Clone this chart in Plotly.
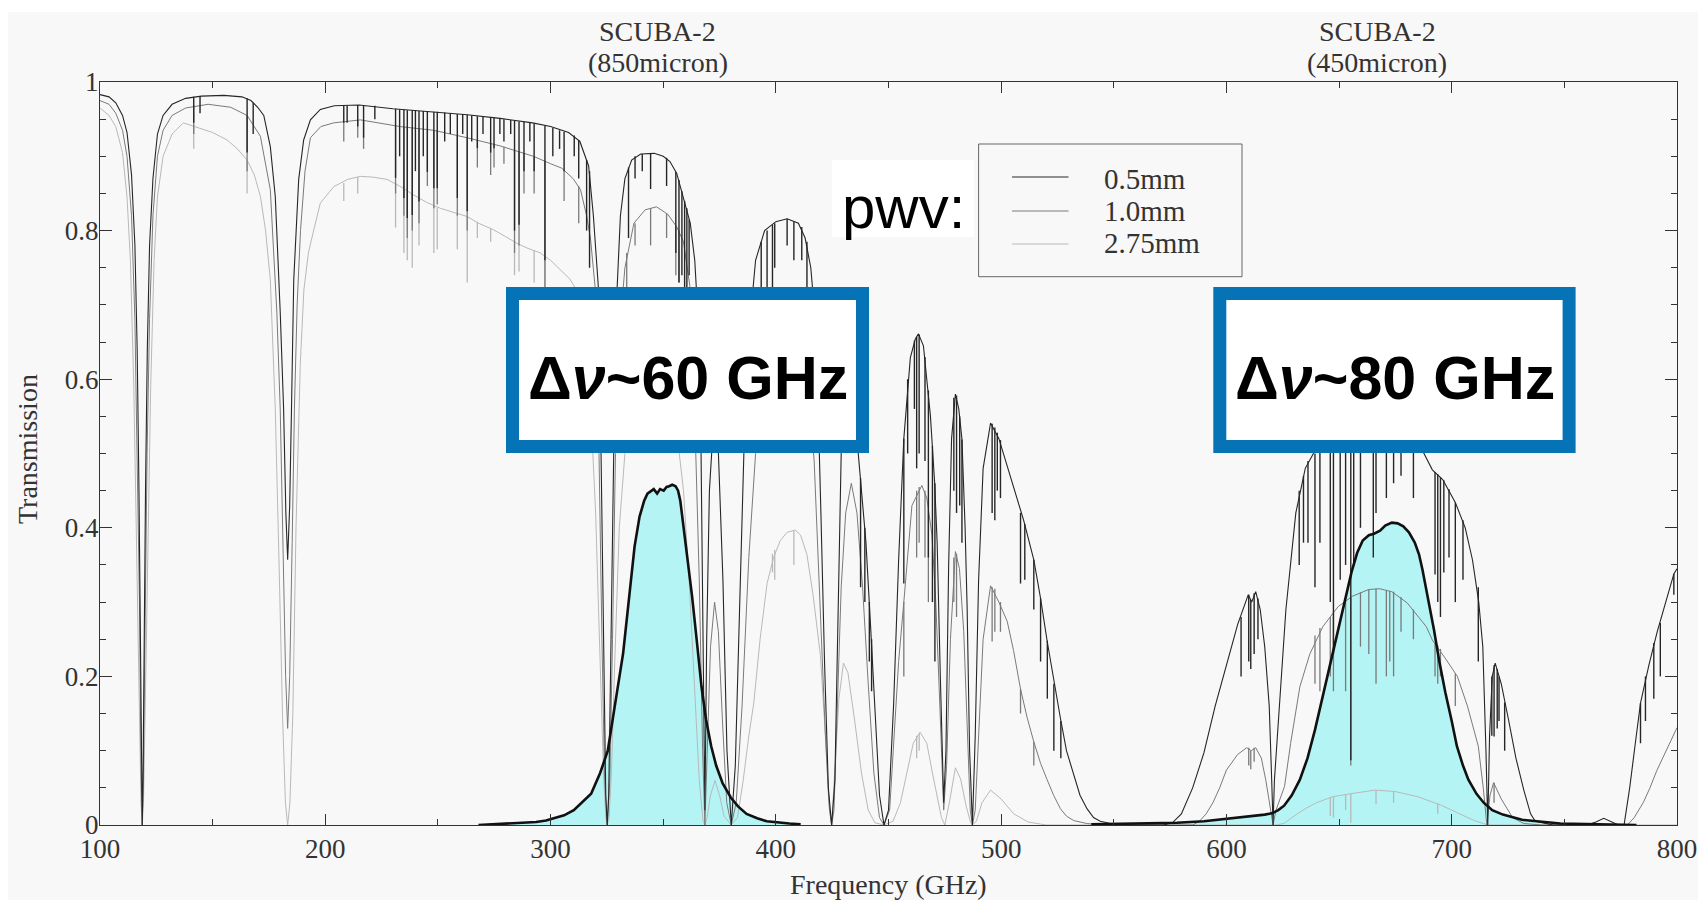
import plotly.graph_objects as go

# Atmospheric transmission envelopes (frequency GHz, transmission) for three PWV levels
T05 = [
    (100, 0.983), (104, 0.980), (107, 0.972), (110, 0.955), (112, 0.932), (114, 0.875),
    (115.5, 0.78), (116.5, 0.64), (117.3, 0.45), (117.9, 0.25), (118.4, 0.06), (118.75, 0.0),
    (119.1, 0.06), (119.6, 0.25), (120.2, 0.45), (121.0, 0.64), (122.0, 0.78), (123.5, 0.87),
    (125.5, 0.93), (128, 0.955), (132, 0.97), (138, 0.978), (145, 0.981), (155, 0.982),
    (163, 0.98), (167, 0.975), (170, 0.966), (172.7, 0.955), (175.6, 0.913), (177.8, 0.846),
    (180.0, 0.69), (181.5, 0.56), (182.5, 0.42), (183.3, 0.357), (184.2, 0.43), (185.0, 0.56),
    (186.0, 0.734), (188.2, 0.869), (190.4, 0.922), (193.4, 0.949), (197.8, 0.963), (204, 0.968),
    (215, 0.969), (230, 0.964), (248, 0.96), (263, 0.956), (277.6, 0.951), (292, 0.945),
    (300, 0.94), (308, 0.932), (313, 0.92), (316.9, 0.887), (319, 0.82), (321.3, 0.72),
    (322.4, 0.5), (323.5, 0.22), (324.5, 0.04), (325.15, 0.0), (325.8, 0.04), (326.6, 0.2),
    (327.6, 0.4), (328.5, 0.6), (329.5, 0.72), (331, 0.82), (333, 0.87), (336, 0.895),
    (340, 0.903), (346, 0.904), (350, 0.9), (353, 0.893), (356, 0.877), (359, 0.845),
    (362, 0.81), (364, 0.76), (365.5, 0.68), (366.8, 0.5), (367.8, 0.25), (368.5, 0.02),
    (369.3, 0.25), (370.5, 0.45), (372.5, 0.55), (374.5, 0.5), (376.5, 0.33), (378.3, 0.1),
    (380.2, 0.0), (382.0, 0.08), (383.8, 0.28), (385.8, 0.5), (388, 0.66), (391, 0.76),
    (395, 0.8), (400, 0.812), (405, 0.816), (410, 0.81), (413, 0.79), (415.5, 0.75),
    (417.2, 0.69), (418.6, 0.58), (420, 0.42), (421.6, 0.22), (423.3, 0.05), (424.76, 0.0),
    (426.2, 0.06), (427.6, 0.3), (429, 0.5), (431, 0.6), (433.5, 0.62), (436, 0.52),
    (437.6, 0.467), (440, 0.38), (442, 0.27), (444, 0.15), (446, 0.04), (448, 0.0),
    (450, 0.02), (452.3, 0.164), (454.5, 0.357), (456.8, 0.52), (459.7, 0.629), (461.9, 0.654),
    (463.3, 0.661), (465.5, 0.645), (468.6, 0.551), (470.5, 0.46), (471.6, 0.38), (473, 0.2),
    (474.5, 0.03), (475.5, 0.1), (476.7, 0.35), (478, 0.52), (479.7, 0.58), (481.2, 0.56),
    (482.6, 0.519), (484, 0.4), (484.9, 0.293), (486, 0.1), (487.25, 0.0), (488.5, 0.12),
    (490, 0.33), (492, 0.48), (495.3, 0.541), (499, 0.52), (502, 0.49), (505.6, 0.454),
    (510, 0.41), (514.5, 0.357), (517.5, 0.305), (520.4, 0.248), (523.5, 0.19), (526.3, 0.144),
    (529, 0.1), (532.2, 0.067), (535, 0.04), (538.1, 0.022), (541, 0.01), (544, 0.005),
    (550, 0.001), (560, 0.0), (572, 0.0), (576, 0.003), (580, 0.015), (585, 0.05),
    (590, 0.097), (595, 0.16), (600.3, 0.218), (605, 0.27), (609.7, 0.31), (611.2, 0.3),
    (613, 0.314), (615, 0.29), (617, 0.24), (619, 0.16), (620.1, 0.06), (620.7, 0.0),
    (621.3, 0.06), (623.4, 0.16), (626.4, 0.29), (630.8, 0.42), (635, 0.48), (638.6, 0.5),
    (645, 0.55), (655, 0.58), (665, 0.595), (675, 0.59), (682, 0.55), (686, 0.51),
    (691.4, 0.478), (696, 0.465), (701.6, 0.434), (706, 0.4), (709.2, 0.357), (712, 0.3),
    (713.8, 0.24), (715.2, 0.1), (716.0, 0.0), (716.8, 0.12), (718, 0.2), (719.3, 0.218),
    (722, 0.19), (725.2, 0.142), (728.5, 0.09), (732, 0.047), (735, 0.015), (737.1, 0.005),
    (745, 0.0), (760, 0.0), (764, 0.004), (767.5, 0.009), (771, 0.004), (774, 0.0),
    (776.5, 0.0), (779, 0.05), (781.5, 0.11), (783.8, 0.164), (787.5, 0.215), (791.2, 0.26),
    (795, 0.3), (798.6, 0.338), (800, 0.345),
]

T10 = [
    (100, 0.975), (104, 0.97), (107, 0.958), (110, 0.935), (112, 0.9), (114, 0.82),
    (115.5, 0.68), (116.6, 0.5), (117.5, 0.3), (118.2, 0.08), (118.75, 0.0), (119.3, 0.08),
    (120.0, 0.3), (120.9, 0.5), (122.0, 0.68), (123.5, 0.82), (125.5, 0.9), (128, 0.935),
    (132, 0.955), (138, 0.965), (148, 0.97), (158, 0.966), (165.3, 0.955), (171.2, 0.927),
    (175.6, 0.855), (178.5, 0.69), (180.0, 0.56), (181.3, 0.38), (182.4, 0.2), (183.3, 0.13),
    (184.2, 0.2), (185.3, 0.38), (186.3, 0.56), (187.5, 0.7), (189, 0.8), (191, 0.88),
    (193.4, 0.925), (198, 0.94), (203.7, 0.945), (215.6, 0.949), (233.3, 0.94), (248.1, 0.935),
    (262.9, 0.925), (277.6, 0.914), (292.4, 0.9), (300, 0.89), (305, 0.884), (310, 0.87),
    (313.3, 0.855), (316, 0.82), (317.7, 0.79), (319.9, 0.72), (321.5, 0.5), (322.8, 0.25),
    (324, 0.06), (325.15, 0.0), (326.3, 0.06), (327.5, 0.25), (328.8, 0.5), (330.5, 0.66),
    (333, 0.75), (337, 0.81), (342, 0.828), (347, 0.832), (352, 0.822), (356, 0.805),
    (359, 0.785), (361.8, 0.726), (364, 0.55), (366, 0.33), (367.5, 0.1), (368.5, 0.0),
    (369.5, 0.1), (371, 0.24), (372.8, 0.3), (374.5, 0.26), (376.3, 0.14), (378.2, 0.03),
    (380.2, 0.0), (382.4, 0.03), (385, 0.16), (388, 0.36), (391, 0.5), (395, 0.6),
    (400, 0.65), (405, 0.665), (410, 0.655), (414, 0.6), (417, 0.49), (419.5, 0.3),
    (422, 0.12), (423.8, 0.02), (424.76, 0.0), (425.8, 0.02), (427.2, 0.16), (429, 0.32),
    (431, 0.42), (433.5, 0.46), (436, 0.42), (438.5, 0.32), (441, 0.19), (443.5, 0.07),
    (446, 0.01), (448, 0.0), (450.5, 0.02), (452.5, 0.12), (454.5, 0.22), (456.8, 0.3),
    (460.4, 0.43), (464.8, 0.457), (467, 0.44), (469.3, 0.39), (471, 0.3), (472.8, 0.16),
    (474.5, 0.02), (475.8, 0.08), (477.5, 0.25), (479.7, 0.368), (481.5, 0.345), (483.4, 0.26),
    (485, 0.12), (486.3, 0.02), (487.25, 0.0), (488.5, 0.02), (490, 0.12), (492, 0.25),
    (495.3, 0.322), (499, 0.3), (502.7, 0.274), (505.5, 0.235), (508.6, 0.183), (511.5, 0.145),
    (514.5, 0.112), (517.5, 0.083), (520.4, 0.061), (523.3, 0.04), (526.3, 0.022), (529, 0.012),
    (532.2, 0.006), (538, 0.002), (545, 0.0), (585, 0.0), (588, 0.005), (591, 0.015),
    (594, 0.03), (597, 0.05), (600, 0.074), (605, 0.095), (609, 0.104), (611, 0.1),
    (613, 0.104), (615.5, 0.09), (617.5, 0.06), (619.3, 0.025), (620.7, 0.0), (622, 0.02),
    (625.8, 0.052), (628.5, 0.11), (632.6, 0.186), (637, 0.23), (642.8, 0.267), (649.6, 0.294),
    (656, 0.308), (663.2, 0.317), (668, 0.318), (673.4, 0.314), (680.2, 0.299), (688.7, 0.267),
    (691.4, 0.249), (697, 0.225), (702.5, 0.2), (707, 0.16), (711.8, 0.106), (714, 0.05),
    (715.6, 0.0), (717, 0.04), (718.6, 0.057), (722, 0.035), (727, 0.01), (732, 0.002),
    (740, 0.0), (778, 0.0), (781, 0.01), (785, 0.03), (788, 0.05), (791, 0.073),
    (796, 0.105), (800, 0.131),
]

T275 = [
    (100, 0.965), (104, 0.955), (107, 0.94), (110, 0.905), (112, 0.845), (113.5, 0.76),
    (115, 0.59), (116.3, 0.38), (117.3, 0.18), (118.2, 0.03), (118.75, 0.0), (119.3, 0.03),
    (120.2, 0.18), (121.2, 0.38), (122.5, 0.59), (124, 0.76), (125.5, 0.845), (128, 0.9),
    (132, 0.93), (137, 0.945), (144.6, 0.938), (150, 0.932), (156.4, 0.922), (161, 0.91),
    (165.3, 0.895), (168.5, 0.875), (171.2, 0.846), (173.5, 0.8), (175.6, 0.734), (177.8, 0.56),
    (179.5, 0.35), (181, 0.15), (182.3, 0.03), (183.3, 0.0), (184.3, 0.03), (185.6, 0.15),
    (187, 0.4), (188.9, 0.62), (190.5, 0.72), (192.5, 0.77), (194.9, 0.801), (197.8, 0.837),
    (203.7, 0.859), (210, 0.869), (215.6, 0.873), (221, 0.872), (227.4, 0.869), (233, 0.86),
    (239.2, 0.848), (245, 0.838), (251.1, 0.83), (257, 0.825), (262.9, 0.819), (268, 0.81),
    (274.7, 0.801), (280, 0.792), (285, 0.783), (290, 0.776), (295.4, 0.77), (300, 0.76),
    (305, 0.745), (308.5, 0.735), (311.6, 0.72), (315, 0.67), (318, 0.55), (320, 0.42),
    (322, 0.22), (323.5, 0.07), (324.5, 0.01), (325.15, 0.0), (326, 0.01), (327, 0.07),
    (328.5, 0.22), (330.5, 0.4), (333, 0.5), (337, 0.56), (342, 0.6), (348, 0.6),
    (352, 0.58), (356, 0.53), (359, 0.45), (361.5, 0.33), (364, 0.18), (366, 0.06),
    (367.7, 0.005), (368.5, 0.0), (369.5, 0.01), (371, 0.04), (373, 0.06), (375, 0.04),
    (377, 0.012), (380.2, 0.0), (383, 0.01), (385.5, 0.06), (388, 0.12), (390.2, 0.164),
    (393, 0.25), (396.1, 0.325), (399, 0.36), (402, 0.383), (405, 0.394), (408.6, 0.397),
    (411, 0.39), (413.8, 0.364), (416.5, 0.31), (419.8, 0.228), (422, 0.12), (423.5, 0.03),
    (424.76, 0.0), (426, 0.06), (428, 0.17), (430, 0.218), (432, 0.205), (435, 0.14),
    (438, 0.07), (441, 0.02), (444, 0.003), (448, 0.0), (452, 0.005), (455.3, 0.03),
    (458, 0.07), (461, 0.11), (464, 0.125), (467, 0.11), (469.5, 0.07), (471.6, 0.04),
    (473.5, 0.01), (475, 0.0), (477, 0.03), (479.7, 0.077), (482, 0.062), (484.5, 0.025),
    (486.5, 0.003), (487.25, 0.0), (489, 0.005), (491.5, 0.03), (495.3, 0.047), (500, 0.035),
    (505.6, 0.015), (512, 0.004), (520, 0.0), (622, 0.0), (625.5, 0.002), (630, 0.012),
    (635, 0.022), (640, 0.03), (647, 0.038), (655, 0.042), (666, 0.047), (675, 0.045),
    (685, 0.038), (695, 0.027), (703, 0.016), (710, 0.006), (714, 0.002), (716, 0.0),
    (800, 0.0),
]

# Narrow absorption lines: (frequency, transmission at line shoulder, transmission at line core)
S05 = [
    (141.6, 0.98, 0.945), (144.4, 0.981, 0.958), (165.3, 0.978, 0.905), (168.0, 0.972, 0.93),
    (208.2, 0.968, 0.945), (209.7, 0.968, 0.945), (214.4, 0.969, 0.94), (217.0, 0.969, 0.925),
    (222.0, 0.968, 0.95), (231.2, 0.964, 0.871), (233.0, 0.963, 0.9), (234.9, 0.963, 0.844),
    (236.4, 0.962, 0.817), (238.6, 0.962, 0.821), (240.0, 0.962, 0.88), (241.6, 0.961, 0.839),
    (243.5, 0.961, 0.9), (245.3, 0.961, 0.879), (248.2, 0.96, 0.857), (249.7, 0.96, 0.857),
    (253.0, 0.959, 0.92), (255.5, 0.958, 0.93), (258.6, 0.957, 0.844), (261.0, 0.957, 0.93),
    (263.0, 0.956, 0.826), (265.0, 0.955, 0.92), (267.5, 0.954, 0.911), (270.0, 0.954, 0.93),
    (273.4, 0.953, 0.905), (274.9, 0.952, 0.911), (277.5, 0.951, 0.93), (279.3, 0.95, 0.92),
    (282.3, 0.949, 0.93), (284.0, 0.948, 0.8), (286.0, 0.947, 0.808), (288.2, 0.946, 0.88),
    (290.8, 0.945, 0.92), (292.7, 0.944, 0.88), (297.5, 0.941, 0.76), (301.0, 0.938, 0.9),
    (304.0, 0.935, 0.91), (306.0, 0.933, 0.88), (310.5, 0.928, 0.9), (312.5, 0.922, 0.87),
    (316.0, 0.895, 0.8), (317.3, 0.88, 0.75),
    (334.6, 0.885, 0.79), (337.5, 0.9, 0.87), (340.7, 0.903, 0.88), (344.4, 0.904, 0.856),
    (351.5, 0.898, 0.86), (355.6, 0.879, 0.77), (357.0, 0.868, 0.73), (358.3, 0.853, 0.74),
    (359.5, 0.84, 0.72), (360.5, 0.83, 0.72), (361.5, 0.815, 0.74),
    (393.5, 0.785, 0.72), (396.1, 0.8, 0.72), (398.5, 0.808, 0.72), (399.5, 0.81, 0.75),
    (405.0, 0.816, 0.78), (408.0, 0.812, 0.76), (411.5, 0.805, 0.76), (413.8, 0.785, 0.72),
    (437.6, 0.467, 0.32), (439.5, 0.4, 0.3), (441.5, 0.3, 0.22), (442.5, 0.25, 0.18),
    (456.8, 0.52, 0.325), (458.5, 0.6, 0.5), (461.5, 0.652, 0.56), (462.5, 0.657, 0.48),
    (463.6, 0.66, 0.5), (466.2, 0.63, 0.49), (467.7, 0.585, 0.36), (469.5, 0.51, 0.3),
    (470.6, 0.46, 0.22),
    (479.0, 0.575, 0.45), (480.2, 0.578, 0.42), (481.6, 0.55, 0.43), (482.6, 0.519, 0.38),
    (496.0, 0.54, 0.42), (497.2, 0.535, 0.41), (498.3, 0.528, 0.45), (499.7, 0.518, 0.44),
    (508.6, 0.42, 0.325), (510.5, 0.405, 0.33), (514.5, 0.357, 0.29), (517.5, 0.305, 0.22),
    (520.5, 0.248, 0.17), (523.4, 0.19, 0.1), (526.5, 0.14, 0.09),
    (606.5, 0.28, 0.2), (609.9, 0.31, 0.22), (610.8, 0.303, 0.21), (612.3, 0.312, 0.23),
    (614.0, 0.305, 0.25),
    (632.3, 0.45, 0.35), (634.2, 0.47, 0.38), (636.2, 0.49, 0.38), (639.3, 0.5, 0.32),
    (641.5, 0.52, 0.38), (646.1, 0.553, 0.3), (647.5, 0.558, 0.23), (650.5, 0.566, 0.33),
    (652.9, 0.572, 0.35), (655.2, 0.58, 0.087), (656.5, 0.582, 0.35), (659.5, 0.588, 0.4),
    (665.2, 0.595, 0.36), (666.4, 0.595, 0.42), (671.0, 0.593, 0.44), (674.2, 0.591, 0.46),
    (677.5, 0.585, 0.47), (683.0, 0.545, 0.44), (692.6, 0.475, 0.337), (693.8, 0.472, 0.3),
    (695.0, 0.468, 0.28), (696.5, 0.464, 0.34), (698.8, 0.452, 0.36), (701.6, 0.434, 0.3),
    (705.0, 0.41, 0.33), (711.8, 0.32, 0.22),
    (717.8, 0.2, 0.12), (718.8, 0.215, 0.119), (720.2, 0.21, 0.13), (721.0, 0.2, 0.14),
    (723.5, 0.165, 0.1),
    (783.8, 0.164, 0.11), (786.0, 0.2, 0.14), (789.7, 0.245, 0.17), (792.6, 0.272, 0.2),
    (798.6, 0.338, 0.31),
]

S10 = [
    (141.6, 0.969, 0.93), (165.3, 0.955, 0.88), (208.2, 0.946, 0.92), (214.4, 0.949, 0.925),
    (217.0, 0.949, 0.91), (231.2, 0.941, 0.85), (234.9, 0.94, 0.82), (236.4, 0.94, 0.79),
    (238.6, 0.939, 0.8), (241.6, 0.938, 0.81), (245.3, 0.937, 0.86), (248.2, 0.935, 0.83),
    (249.7, 0.935, 0.835), (258.6, 0.929, 0.82), (263.0, 0.925, 0.8), (267.5, 0.922, 0.885),
    (273.4, 0.918, 0.875), (274.9, 0.917, 0.885), (279.3, 0.913, 0.89), (284.0, 0.908, 0.77),
    (286.0, 0.906, 0.78), (288.2, 0.904, 0.85), (292.7, 0.9, 0.85), (297.5, 0.894, 0.72),
    (306.0, 0.882, 0.84), (312.5, 0.86, 0.81),
    (333.8, 0.77, 0.7), (337.5, 0.81, 0.78), (344.4, 0.83, 0.78), (351.5, 0.823, 0.79),
    (355.6, 0.806, 0.74), (357.0, 0.8, 0.73),
    (398.5, 0.64, 0.58), (399.5, 0.645, 0.56), (408.0, 0.66, 0.6), (413.8, 0.6, 0.55),
    (456.8, 0.3, 0.2), (462.5, 0.45, 0.36), (463.6, 0.455, 0.38), (466.2, 0.45, 0.36),
    (467.7, 0.425, 0.3), (479.0, 0.36, 0.3), (480.2, 0.365, 0.28), (496.0, 0.32, 0.247),
    (497.2, 0.318, 0.26), (499.7, 0.3, 0.26), (508.6, 0.183, 0.15), (514.5, 0.112, 0.08),
    (609.9, 0.104, 0.08), (610.8, 0.1, 0.075), (612.3, 0.104, 0.085),
    (639.3, 0.255, 0.19), (641.5, 0.265, 0.18), (646.1, 0.28, 0.2), (647.5, 0.285, 0.18),
    (652.9, 0.303, 0.18), (655.2, 0.306, 0.08), (659.5, 0.313, 0.24), (663.2, 0.317, 0.23),
    (666.4, 0.318, 0.19), (671.0, 0.316, 0.2), (672.5, 0.315, 0.22), (674.2, 0.314, 0.2),
    (677.5, 0.307, 0.26), (683.0, 0.29, 0.25), (692.6, 0.245, 0.2), (693.8, 0.242, 0.19),
    (695.0, 0.237, 0.2), (701.6, 0.204, 0.16), (718.8, 0.057, 0.03),
]

S275 = [
    (141.6, 0.943, 0.91), (165.3, 0.895, 0.85), (208.2, 0.864, 0.84), (214.4, 0.872, 0.85),
    (231.2, 0.864, 0.804), (234.9, 0.861, 0.77), (236.4, 0.858, 0.76), (238.6, 0.85, 0.75),
    (241.6, 0.845, 0.78), (248.2, 0.834, 0.77), (249.7, 0.831, 0.775), (258.6, 0.823, 0.775),
    (263.0, 0.819, 0.73), (267.5, 0.812, 0.79), (273.4, 0.803, 0.785), (284.0, 0.786, 0.74),
    (286.0, 0.782, 0.745), (292.7, 0.774, 0.73), (297.5, 0.766, 0.7),
    (398.5, 0.365, 0.34), (399.5, 0.37, 0.33), (408.0, 0.396, 0.35),
    (462.5, 0.12, 0.09), (463.6, 0.123, 0.1),
    (646.1, 0.037, 0.012), (647.5, 0.038, 0.01), (652.9, 0.041, 0.02), (655.2, 0.042, 0.003),
    (666.4, 0.047, 0.028), (674.2, 0.045, 0.03), (693.8, 0.029, 0.015),
]

# SCUBA-2 filter passbands (frequency GHz, transmission)
F850 = [
    (268, 0.0), (275, 0.001), (285, 0.002), (293.6, 0.004), (298, 0.006), (302, 0.009),
    (306, 0.013), (310.3, 0.02), (314, 0.03), (318, 0.042), (322, 0.07), (325.4, 0.1),
    (328.5, 0.16), (332.2, 0.231), (335, 0.31), (337.3, 0.375), (339.5, 0.415), (341.5, 0.436),
    (343, 0.446), (344.2, 0.449), (345.8, 0.452), (347.3, 0.446), (348.6, 0.452), (350.2, 0.45),
    (351.5, 0.455), (352.6, 0.456), (354, 0.458), (355.5, 0.456), (356.6, 0.45), (357.6, 0.436),
    (358.5, 0.415), (360.5, 0.368), (362.8, 0.308), (365, 0.245), (367, 0.186), (369, 0.142),
    (371.3, 0.106), (373.5, 0.08), (376.4, 0.056), (380, 0.037), (383.2, 0.025), (387, 0.015),
    (391.7, 0.009), (396, 0.005), (401.9, 0.003), (406, 0.002), (411, 0.001),
]

F450 = [
    (540, 0.001), (560, 0.002), (578, 0.003), (590, 0.005), (600, 0.008), (607, 0.01),
    (612, 0.012), (617, 0.014), (620.5, 0.016), (623, 0.02), (625.6, 0.026), (629, 0.04),
    (632.6, 0.061), (636, 0.09), (639.3, 0.128), (642.5, 0.17), (646.1, 0.218), (649.5, 0.265),
    (652.9, 0.308), (655.5, 0.34), (658, 0.366), (660.5, 0.383), (663.2, 0.39), (665.5, 0.392),
    (668.2, 0.396), (670.5, 0.403), (673.4, 0.407), (676, 0.406), (678.5, 0.402), (681, 0.394),
    (683.6, 0.38), (685.5, 0.364), (687, 0.344), (689.5, 0.305), (692.1, 0.263), (694.5, 0.22),
    (697.2, 0.178), (700, 0.14), (702.3, 0.106), (705, 0.08), (707.4, 0.061), (711, 0.042),
    (714.2, 0.03), (718, 0.02), (722.7, 0.014), (731.2, 0.007), (740, 0.004), (748.2, 0.002),
    (765, 0.001), (782, 0.0),
]

PWV_LABELS = ["0.5mm", "1.0mm", "2.75mm"]
PWV_COLORS = ["#262626", "#7a7a7a", "#b9b9b9"]
X_TICKS = [100, 200, 300, 400, 500, 600, 700, 800]
Y_TICKS = [0, 0.2, 0.4, 0.6, 0.8, 1.0]
Y_TICK_TEXT = ["0", "0.2", "0.4", "0.6", "0.8", "1"]

W, H = 1698, 900
ML, MR, MT, MB = 100, 21, 82, 75
PW, PH = W - ML - MR, H - MT - MB


def xp(px):
    return (px - ML) / PW


def yp(py):
    return (H - MB - py) / PH


def xy(pairs):
    return [p[0] for p in pairs], [p[1] for p in pairs]


def spikes(lines):
    xs, ys = [], []
    for f, top, bot in lines:
        xs += [f, f, None]
        ys += [top, bot, None]
    return xs, ys


SERIF = "Liberation Serif"
SANS = "Liberation Sans"
TXT = "#333333"
CYAN = "#b5f4f4"
BLUE = "#0573b6"
BG = "#f8f8f8"

fig = go.Figure()

# filter fills below everything
for band in (F850, F450):
    bx, by = xy(band)
    fig.add_trace(go.Scatter(x=bx, y=by, mode="lines", fill="tozeroy", fillcolor=CYAN,
                             line=dict(width=0, color=CYAN), hoverinfo="skip", showlegend=False))

# transmission curves, drawn wettest first so the driest sits on top
for env, lines, color, width in ((T275, S275, PWV_COLORS[2], 1.0),
                                 (T10, S10, PWV_COLORS[1], 1.0),
                                 (T05, S05, PWV_COLORS[0], 1.1)):
    ex, ey = xy(env)
    fig.add_trace(go.Scatter(x=ex, y=ey, mode="lines", line=dict(color=color, width=width),
                             hoverinfo="skip", showlegend=False))
    sx, sy = spikes(lines)
    fig.add_trace(go.Scatter(x=sx, y=sy, mode="lines", line=dict(color=color, width=width + 0.3),
                             connectgaps=False, hoverinfo="skip", showlegend=False))

# filter outlines on top
for band in (F850, F450):
    bx, by = xy(band)
    fig.add_trace(go.Scatter(x=bx, y=by, mode="lines", line=dict(color="#111111", width=2.6),
                             hoverinfo="skip", showlegend=False))

shapes = []
# white frame around the grey panel
shapes.append(dict(type="rect", xref="paper", yref="paper", x0=xp(0), x1=xp(W), y0=yp(12), y1=yp(0),
                   fillcolor="white", line=dict(width=0), layer="below"))
shapes.append(dict(type="rect", xref="paper", yref="paper", x0=xp(0), x1=xp(8), y0=yp(H), y1=yp(0),
                   fillcolor="white", line=dict(width=0), layer="below"))

# legend frame and sample lines
shapes.append(dict(type="rect", xref="paper", yref="paper", x0=xp(978.6), x1=xp(1242),
                   y0=yp(276.7), y1=yp(144), fillcolor=BG, line=dict(color="#666666", width=1)))
legend_rows = [177, 211, 244]
for row, color in zip(legend_rows, PWV_COLORS):
    shapes.append(dict(type="line", xref="paper", yref="paper", x0=xp(1012), x1=xp(1068.5),
                       y0=yp(row), y1=yp(row), line=dict(color=color, width=1.2)))

# "pwv:" backing
shapes.append(dict(type="rect", xref="paper", yref="paper", x0=xp(832), x1=xp(974),
                   y0=yp(237), y1=yp(160), fillcolor="white", line=dict(width=0)))

# bandwidth call-out boxes
for x0, x1 in ((506, 869), (1213.3, 1575.6)):
    shapes.append(dict(type="rect", xref="paper", yref="paper", x0=xp(x0 + 6.5), x1=xp(x1 - 6.5),
                       y0=yp(453 - 6.5), y1=yp(287 + 6.5), fillcolor="white",
                       line=dict(color=BLUE, width=13)))

annotations = []
for fc, name in ((347.5, "(850micron)"), (667, "(450micron)")):
    annotations.append(dict(x=fc, xref="x", y=yp(31), yref="paper", text="SCUBA-2", showarrow=False,
                            font=dict(family=SERIF, size=28, color=TXT), xanchor="center", yanchor="middle"))
    annotations.append(dict(x=fc, xref="x", y=yp(63), yref="paper", text=name, showarrow=False,
                            font=dict(family=SERIF, size=28, color=TXT), xanchor="center", yanchor="middle"))

annotations.append(dict(x=xp(888), y=yp(884), xref="paper", yref="paper", text="Frequency (GHz)",
                        showarrow=False, font=dict(family=SERIF, size=28, color=TXT),
                        xanchor="center", yanchor="middle"))
annotations.append(dict(x=xp(28), y=yp(449), xref="paper", yref="paper", text="Transmission",
                        showarrow=False, textangle=-90, font=dict(family=SERIF, size=28, color=TXT),
                        xanchor="center", yanchor="middle"))

legend_text_rows = [179, 211, 243]
for row, label in zip(legend_text_rows, PWV_LABELS):
    annotations.append(dict(x=xp(1102), y=yp(row), xref="paper", yref="paper", text=label,
                            showarrow=False, font=dict(family=SERIF, size=29, color=TXT),
                            xanchor="left", yanchor="middle"))

annotations.append(dict(x=xp(903), y=yp(208), xref="paper", yref="paper", text="pwv:",
                        showarrow=False, font=dict(family=SANS, size=60, color="black"),
                        xanchor="center", yanchor="middle"))

for cx, label in ((687.5, "<b>Δ<i>ν</i>~60 GHz</b>"), (1394.5, "<b>Δ<i>ν</i>~80 GHz</b>")):
    annotations.append(dict(x=xp(cx), y=yp(378), xref="paper", yref="paper", text=label,
                            showarrow=False, font=dict(family=SANS, size=61, color="black"),
                            xanchor="center", yanchor="middle"))

axis_common = dict(showline=True, linecolor="#333333", linewidth=1.2, mirror="allticks",
                   ticks="inside", tickcolor="#333333", tickwidth=1.2, showgrid=False,
                   zeroline=False, automargin=False, tickfont=dict(family=SERIF, size=27, color=TXT))

fig.update_xaxes(range=[100, 800], tickvals=X_TICKS, ticklen=11, ticklabelstandoff=-1,
                 minor=dict(dtick=50, ticks="inside", ticklen=6, tickcolor="#333333", showgrid=False),
                 **axis_common)
fig.update_yaxes(range=[0, 1], tickvals=Y_TICKS, ticktext=Y_TICK_TEXT, ticklen=12, ticklabelstandoff=-5,
                 minor=dict(dtick=0.05, ticks="inside", ticklen=6, tickcolor="#333333", showgrid=False),
                 **axis_common)

fig.update_layout(width=W, height=H, margin=dict(l=ML, r=MR, t=MT, b=MB, autoexpand=False),
                  paper_bgcolor=BG, plot_bgcolor=BG, showlegend=False,
                  shapes=shapes, annotations=annotations)

fig.write_html("out.html")
